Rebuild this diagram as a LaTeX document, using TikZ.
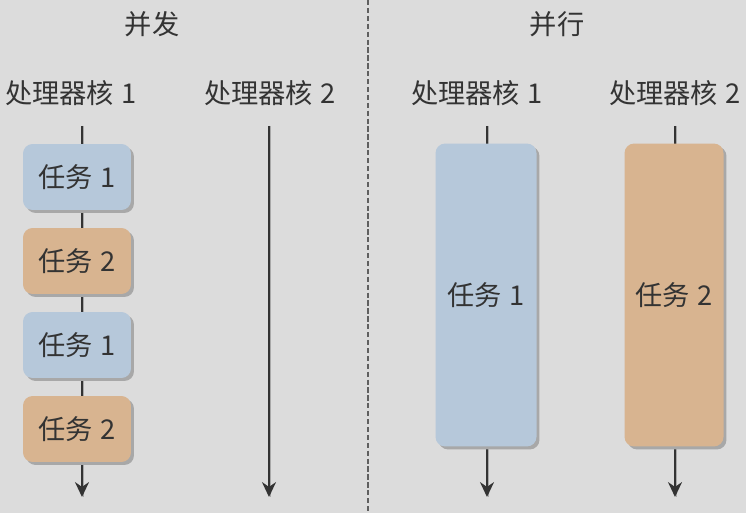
\documentclass[tikz,border=0pt]{standalone}
\usepackage{fontspec}
\setmainfont{Noto Sans CJK SC}
\usetikzlibrary{arrows.meta, positioning, shadows}
\definecolor{BgGray}{RGB}{220,220,220}
\definecolor{TaskBlue}{RGB}{182,200,218}
\definecolor{TaskOrange}{RGB}{216,180,144}
\definecolor{InkGray}{RGB}{51,51,51}
\definecolor{ShadowGray}{RGB}{168,168,168}
\definecolor{DividerGray}{RGB}{95,95,95}

\begin{document}
\begin{tikzpicture}[x=0.02cm, y=-0.02cm, font=\fontsize{15.5}{18}\selectfont, text=InkGray,
    task/.style={rounded corners=5.5pt, minimum width=2.16cm, minimum height=1.32cm, inner sep=0pt,
      drop shadow={shadow xshift=1.7pt, shadow yshift=-1.7pt, fill=ShadowGray, opacity=1}},
    flow/.style={draw=InkGray, line width=0.8pt, -{Stealth[length=8.5pt,width=8pt]},
      preaction={draw=ShadowGray, -, transform canvas={xshift=0.9pt}}}]
  \fill[BgGray] (0,0) rectangle (746,513);
  \useasboundingbox (0,0) rectangle (746,513);
  \draw[DividerGray, line width=0.7pt, dash pattern=on 3pt off 1.5pt] (368,0) -- (368,513);

  % titles
  \node (concur) at (152,24) {并发};
  \node (para) at (557,24) {并行};

  % cores and their time lines
  \foreach \x/\l/\n/\lbl in {71/82/1/cA, 270/269/2/cB, 477/487/1/pA, 675/675/2/pB}{
    \node (\lbl) at (\x,93) {处理器核\hspace{4.5pt}\n};
    \coordinate (\lbl top) at (\l,126);
    \coordinate (\lbl end) at (\l,497);
    \draw[flow] (\lbl top) -- (\lbl end);
  }

  % concurrent tasks on core 1
  \foreach \y/\n/\c [count=\i] in {177/1/TaskBlue, 261/2/TaskOrange, 345/1/TaskBlue, 429/2/TaskOrange}{
    \node[task, fill=\c] (cA-t\i) at (77,\y) {任务\hspace{4.5pt}\n\hspace{6pt}};
  }

  % parallel tasks
  \node[task, fill=TaskBlue, minimum width=2.02cm, minimum height=6.06cm] (pA-t1) at (486,295) {任务\hspace{4.5pt}1};
  \node[task, fill=TaskOrange, minimum width=1.98cm, minimum height=6.06cm] (pB-t2) at (674,295) {任务\hspace{4.5pt}2};
\end{tikzpicture}
\end{document}
